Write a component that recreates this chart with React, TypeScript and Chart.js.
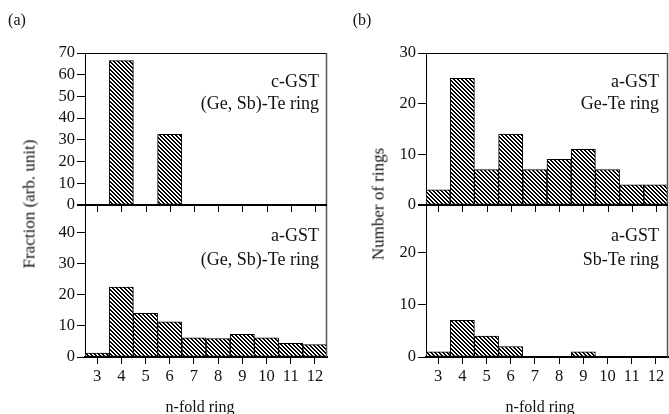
import React, { useEffect, useRef } from "react";
import { Chart, registerables } from "chart.js";

Chart.register(...registerables);

const rings = ["3", "4", "5", "6", "7", "8", "9", "10", "11", "12"];
const cGST = [0, 66.5, 0, 32.5, 0, 0, 0, 0, 0, 0];
const aGST = [1.3, 22.5, 14.1, 11.3, 6.2, 5.9, 7.3, 6.2, 4.4, 4.0];
const geTe = [3, 25, 7, 14, 7, 9, 11, 7, 4, 4];
const sbTe = [1, 7, 4, 2, 0, 0, 1, 0, 0, 0];

const FONT = "'Liberation Serif', 'Times New Roman', serif";

function makeHatch(): CanvasPattern | string {
  const n = 4;
  const c = document.createElement("canvas");
  c.width = n;
  c.height = n;
  const g = c.getContext("2d");
  if (!g) return "#000";
  const img = g.createImageData(n, n);
  for (let y = 0; y < n; y++) {
    for (let x = 0; x < n; x++) {
      const k = (((x - y) % n) + n) % n;
      const i = (y * n + x) * 4;
      const v = k < 2 ? 0 : 255;
      img.data[i] = v;
      img.data[i + 1] = v;
      img.data[i + 2] = v;
      img.data[i + 3] = 255;
    }
  }
  g.putImageData(img, 0, 0);
  const p = g.createPattern(c, "repeat");
  return p || "#000";
}

const framePlugin = {
  id: "frame",
  afterDraw(chart: any) {
    const { ctx, chartArea } = chart;
    const yTop = chart.scales.yTop;
    const x = chart.scales.x;
    ctx.save();
    ctx.strokeStyle = "#000";
    ctx.lineWidth = 1;
    ctx.beginPath();
    ctx.moveTo(chartArea.left, chartArea.top + 0.5);
    ctx.lineTo(chartArea.right, chartArea.top + 0.5);
    ctx.stroke();
    ctx.strokeStyle = "#555";
    ctx.lineWidth = 1.5;
    ctx.beginPath();
    ctx.moveTo(chartArea.right - 0.5, chartArea.top);
    ctx.lineTo(chartArea.right - 0.5, chartArea.bottom);
    ctx.stroke();
    const y0 = yTop.getPixelForValue(0);
    ctx.strokeStyle = "#000";
    ctx.lineWidth = 2;
    ctx.beginPath();
    ctx.moveTo(chartArea.left - 8, y0);
    ctx.lineTo(chartArea.right, y0);
    ctx.stroke();
    ctx.lineWidth = 1;
    ctx.beginPath();
    for (let i = 0; i < rings.length; i++) {
      const px = Math.round(x.getPixelForValue(i)) + 0.5;
      ctx.moveTo(px, y0);
      ctx.lineTo(px, y0 + 7);
    }
    ctx.stroke();
    ctx.restore();
  },
};

type PanelProps = {
  top: number[];
  bottom: number[];
  topMax: number;
  bottomMax: number;
  padRight: number;
  axisWidth: number;
};

function Panel({ top, bottom, topMax, bottomMax, padRight, axisWidth }: PanelProps) {
  const ref = useRef<HTMLCanvasElement>(null);
  useEffect(() => {
    if (!ref.current) return;
    const hatch = makeHatch();
    const yCommon = (max: number) => ({
      type: "linear" as const,
      stack: "rings",
      stackWeight: 1,
      position: "left" as const,
      min: 0,
      max,
      afterFit: (s: any) => {
        s.width = axisWidth;
      },
      border: { display: true, color: "#000", width: 1 },
      grid: {
        drawOnChartArea: false,
        drawTicks: true,
        tickLength: 8,
        tickColor: "#000",
        color: "#000",
      },
      ticks: {
        stepSize: 10,
        includeBounds: false,
        autoSkip: false,
        color: "#111",
        padding: 2,
        font: { family: FONT, size: 16.5 },
      },
    });
    const barStyle = {
      grouped: false,
      backgroundColor: hatch as any,
      borderColor: "#000",
      borderWidth: 1,
      borderSkipped: false as const,
      barPercentage: 1,
      categoryPercentage: 1,
    };
    const chart = new Chart(ref.current, {
      type: "bar",
      data: {
        labels: rings,
        datasets: [
          { data: top, yAxisID: "yTop", ...barStyle },
          { data: bottom, yAxisID: "yBot", ...barStyle },
        ],
      },
      options: {
        animation: false,
        responsive: false,
        maintainAspectRatio: false,
        layout: { padding: { top: 53, right: padRight, left: 0, bottom: 0 } },
        plugins: { legend: { display: false }, tooltip: { enabled: false } },
        scales: {
          x: {
            type: "category",
            position: "bottom",
            offset: true,
            afterFit: (s: any) => {
              s.height = 57;
            },
            border: { display: true, color: "#000", width: 2 },
            grid: {
              offset: false,
              drawOnChartArea: false,
              drawTicks: true,
              tickLength: 7,
              tickColor: "#000",
              color: "#000",
            },
            ticks: {
              color: "#111",
              padding: 3,
              maxRotation: 0,
              autoSkip: false,
              font: { family: FONT, size: 16.5 },
            },
          },
          yBot: yCommon(bottomMax),
          yTop: yCommon(topMax),
        },
      },
      plugins: [framePlugin],
    });
    return () => chart.destroy();
  }, []);
  return <canvas ref={ref} width={335} height={414} style={{ display: "block" }} />;
}

const txt = (
  s: string,
  x: number,
  y: number,
  size: number,
  anchor: "center" | "right",
  rotate = false
) => (
  <div
    style={{
      position: "absolute",
      left: x,
      top: y,
      whiteSpace: "nowrap",
      fontFamily: FONT,
      fontSize: size,
      lineHeight: 1,
      color: "#111",
      transform:
        (anchor === "right" ? "translate(-100%, -50%)" : "translate(-50%, -50%)") +
        (rotate ? " rotate(-90deg)" : ""),
    }}
  >
    {s}
  </div>
);

export default function App() {
  return (
    <div style={{ position: "absolute", left: 0, top: 0, width: 669, height: 414, background: "#fff", overflow: "hidden" }}>
      <div style={{ position: "absolute", left: 0, top: 0 }}>
        <Panel top={cGST} bottom={aGST} topMax={70} bottomMax={49} padRight={8} axisWidth={85} />
      </div>
      <div style={{ position: "absolute", left: 334, top: 0 }}>
        <Panel top={geTe} bottom={sbTe} topMax={30} bottomMax={29} padRight={1} axisWidth={92} />
      </div>
      {txt("(a)", 17, 20, 16, "center")}
      {txt("(b)", 362, 20, 16, "center")}
      {txt("c-GST", 319, 81, 18, "right")}
      {txt("(Ge, Sb)-Te ring", 319, 103, 18, "right")}
      {txt("a-GST", 319, 235, 18, "right")}
      {txt("(Ge, Sb)-Te ring", 319, 259, 18, "right")}
      {txt("a-GST", 659, 81, 18, "right")}
      {txt("Ge-Te ring", 659, 103, 18, "right")}
      {txt("a-GST", 659, 235, 18, "right")}
      {txt("Sb-Te ring", 659, 259, 18, "right")}
      {txt("Fraction (arb. unit)", 29, 204, 17, "center", true)}
      {txt("Number of rings", 378, 204, 17, "center", true)}
      {txt("n-fold ring", 200, 407, 16, "center")}
      {txt("n-fold ring", 540, 407, 16, "center")}
    </div>
  );
}
